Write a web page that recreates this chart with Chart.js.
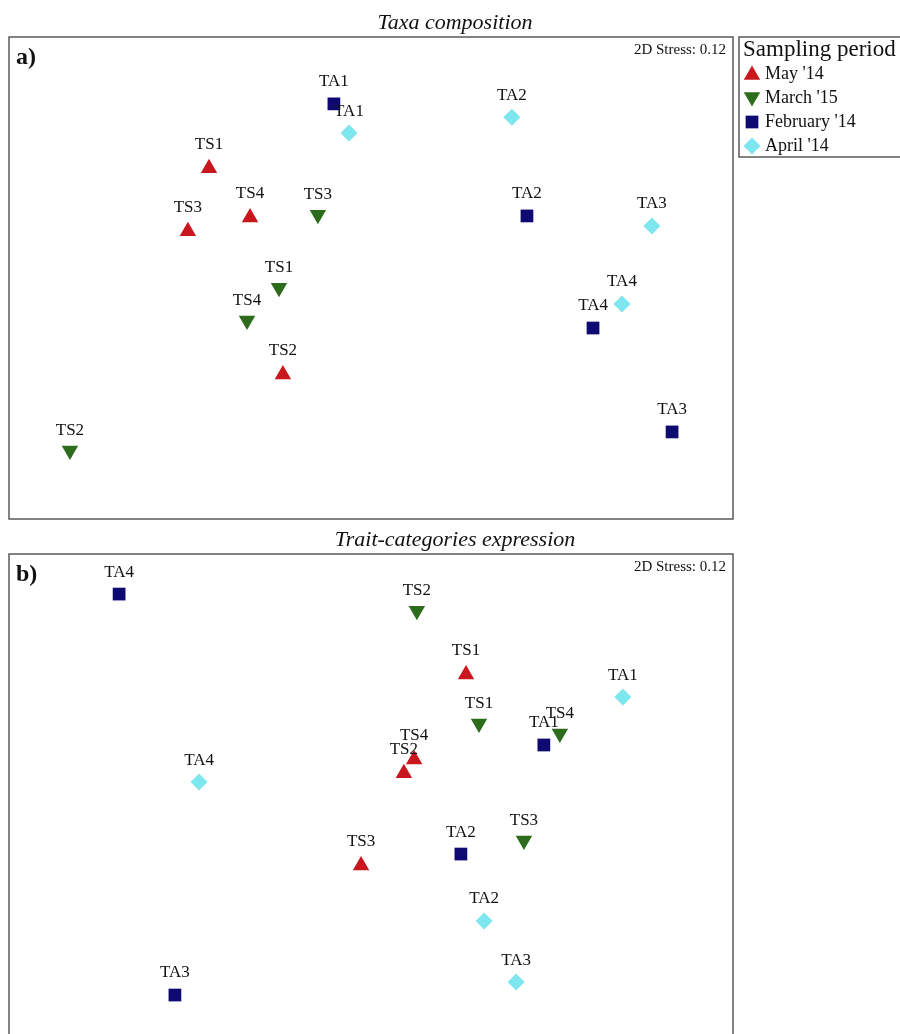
<!DOCTYPE html>
<html>
<head>
<meta charset="utf-8">
<script src="https://cdn.jsdelivr.net/npm/chart.js@4/dist/chart.umd.min.js"></script>
<style>
  html, body { margin: 0; padding: 0; background: #fff; overflow: hidden; width: 900px; height: 1034px; }
  canvas { position: absolute; left: 0; display: block; }
  #ca { top: 0; width: 900px; height: 530px; }
  #cb { top: 530px; width: 900px; height: 510px; }
</style>
</head>
<body>
<canvas id="ca" width="900" height="530"></canvas>
<canvas id="cb" width="900" height="510"></canvas>
<script>
// ---- data ----
const seriesNames = ["May '14", "March '15", "February '14", "April '14"];
const sitesS = ['TS1', 'TS2', 'TS3', 'TS4'];
const sitesA = ['TA1', 'TA2', 'TA3', 'TA4'];

// Panel a) Taxa composition
const aMayX = [-0.537, -0.292, -0.607, -0.401];
const aMayY = [0.364, -0.320, 0.155, 0.201];
const aMarX = [-0.305, -0.998, -0.176, -0.411];
const aMarY = [-0.032, -0.573, 0.210, -0.141];
const aFebX = [-0.123, 0.517, 0.998, 0.736];
const aFebY = [0.578, 0.206, -0.511, -0.166];
const aAprX = [-0.073, 0.467, 0.931, 0.832];
const aAprY = [0.481, 0.534, 0.173, -0.086];

// Panel b) Trait-categories expression
const bMayX = [0.315, 0.109, -0.033, 0.143];
const bMayY = [0.400, 0.072, -0.234, 0.118];
const bMarX = [0.358, 0.152, 0.507, 0.626];
const bMarY = [0.237, 0.612, -0.151, 0.204];
const bFebX = [0.573, 0.298, -0.650, -0.835];
const bFebY = [0.166, -0.196, -0.664, 0.667];
const bAprX = [0.835, 0.375, 0.481, -0.570];
const bAprY = [0.325, -0.418, -0.621, 0.043];

const stressText = '2D Stress: 0.12';

// ---- styles ----
const colors = ['#c9171e', '#2d6c1c', '#0e0a72', '#7ee6ee'];
const styles = ['triangle', 'triangle', 'rect', 'rectRot'];
const rotations = [0, 180, 0, 0];
const radii = [9.5, 9.5, 9, 8.5];
const SERIF = '"Liberation Serif", "DejaVu Serif", serif';

function pts(xs, ys) { return xs.map((x, i) => ({ x: x, y: ys[i] })); }

function makeDatasets(sets) {
  return sets.map((s, k) => ({
    label: seriesNames[k],
    data: pts(s[0], s[1]),
    siteLabels: k < 2 ? sitesS : sitesA,
    pointStyle: styles[k],
    rotation: rotations[k],
    pointRadius: radii[k],
    backgroundColor: colors[k],
    borderColor: colors[k],
    borderWidth: 0,
    showLine: false
  }));
}

function drawMarker(ctx, k, x, y) {
  const opts = { pointStyle: styles[k], rotation: rotations[k], radius: radii[k], borderWidth: 0 };
  ctx.save();
  ctx.fillStyle = colors[k];
  ctx.strokeStyle = colors[k];
  ctx.lineWidth = 0;
  Chart.helpers.drawPoint(ctx, opts, x, y);
  ctx.restore();
}

function framePlugin(cfg) {
  return {
    id: 'frame' + cfg.tag,
    afterDatasetsDraw(chart) {
      const ctx = chart.ctx;
      const a = chart.chartArea;
      ctx.save();
      // border
      ctx.strokeStyle = '#5a5a5a';
      ctx.lineWidth = 1.5;
      ctx.strokeRect(a.left, a.top, a.right - a.left, a.bottom - a.top);
      // point labels
      ctx.fillStyle = '#111';
      ctx.font = '17px ' + SERIF;
      ctx.textAlign = 'center';
      ctx.textBaseline = 'middle';
      chart.data.datasets.forEach((ds, k) => {
        const meta = chart.getDatasetMeta(k);
        const off = k === 0 ? 24 : (k === 1 ? 20 : 22);
        meta.data.forEach((el, i) => {
          ctx.fillText(ds.siteLabels[i], el.x, el.y - off);
        });
      });
      // panel letter
      ctx.font = 'bold 24px ' + SERIF;
      ctx.textAlign = 'left';
      ctx.fillText(cfg.letter, 16, a.top + 21);
      // stress
      ctx.font = '15px ' + SERIF;
      ctx.textAlign = 'right';
      ctx.fillText(stressText, a.right - 7, a.top + 13);
      // title
      ctx.font = 'italic 22px ' + SERIF;
      ctx.textAlign = 'center';
      ctx.fillText(cfg.title, 455, a.top - 14);
      // legend
      if (cfg.legend) {
        ctx.strokeStyle = '#5a5a5a';
        ctx.lineWidth = 1.5;
        ctx.strokeRect(739, 37, 175, 120);
        ctx.fillStyle = '#111';
        ctx.textAlign = 'left';
        ctx.font = '23px ' + SERIF;
        ctx.fillText('Sampling period', 743, 50);
        ctx.font = '18px ' + SERIF;
        seriesNames.forEach((n, k) => {
          const y = 74 + k * 24;
          drawMarker(ctx, k, 752, k === 0 ? y + 1 : (k === 1 ? y - 1 : y));
          ctx.fillStyle = '#111';
          ctx.fillText(n, 765, y);
        });
      }
      ctx.restore();
    }
  };
}

function makeChart(id, sets, pad, cfg) {
  return new Chart(document.getElementById(id), {
    type: 'scatter',
    data: { datasets: makeDatasets(sets) },
    options: {
      responsive: false,
      maintainAspectRatio: false,
      devicePixelRatio: 1,
      animation: false,
      events: [],
      layout: { padding: pad, autoPadding: false },
      plugins: { legend: { display: false }, tooltip: { enabled: false } },
      scales: {
        x: { type: 'linear', min: -1.2, max: 1.2, display: false },
        y: { type: 'linear', min: -0.8, max: 0.8, display: false }
      }
    },
    plugins: [framePlugin(cfg)]
  });
}

makeChart('ca',
  [[aMayX, aMayY], [aMarX, aMarY], [aFebX, aFebY], [aAprX, aAprY]],
  { left: 9, top: 37, right: 167, bottom: 11 },
  { tag: 'a', letter: 'a)', title: 'Taxa composition', legend: true });

makeChart('cb',
  [[bMayX, bMayY], [bMarX, bMarY], [bFebX, bFebY], [bAprX, bAprY]],
  { left: 9, top: 24, right: 167, bottom: 4 },
  { tag: 'b', letter: 'b)', title: 'Trait-categories expression', legend: false });
</script>
</body>
</html>
